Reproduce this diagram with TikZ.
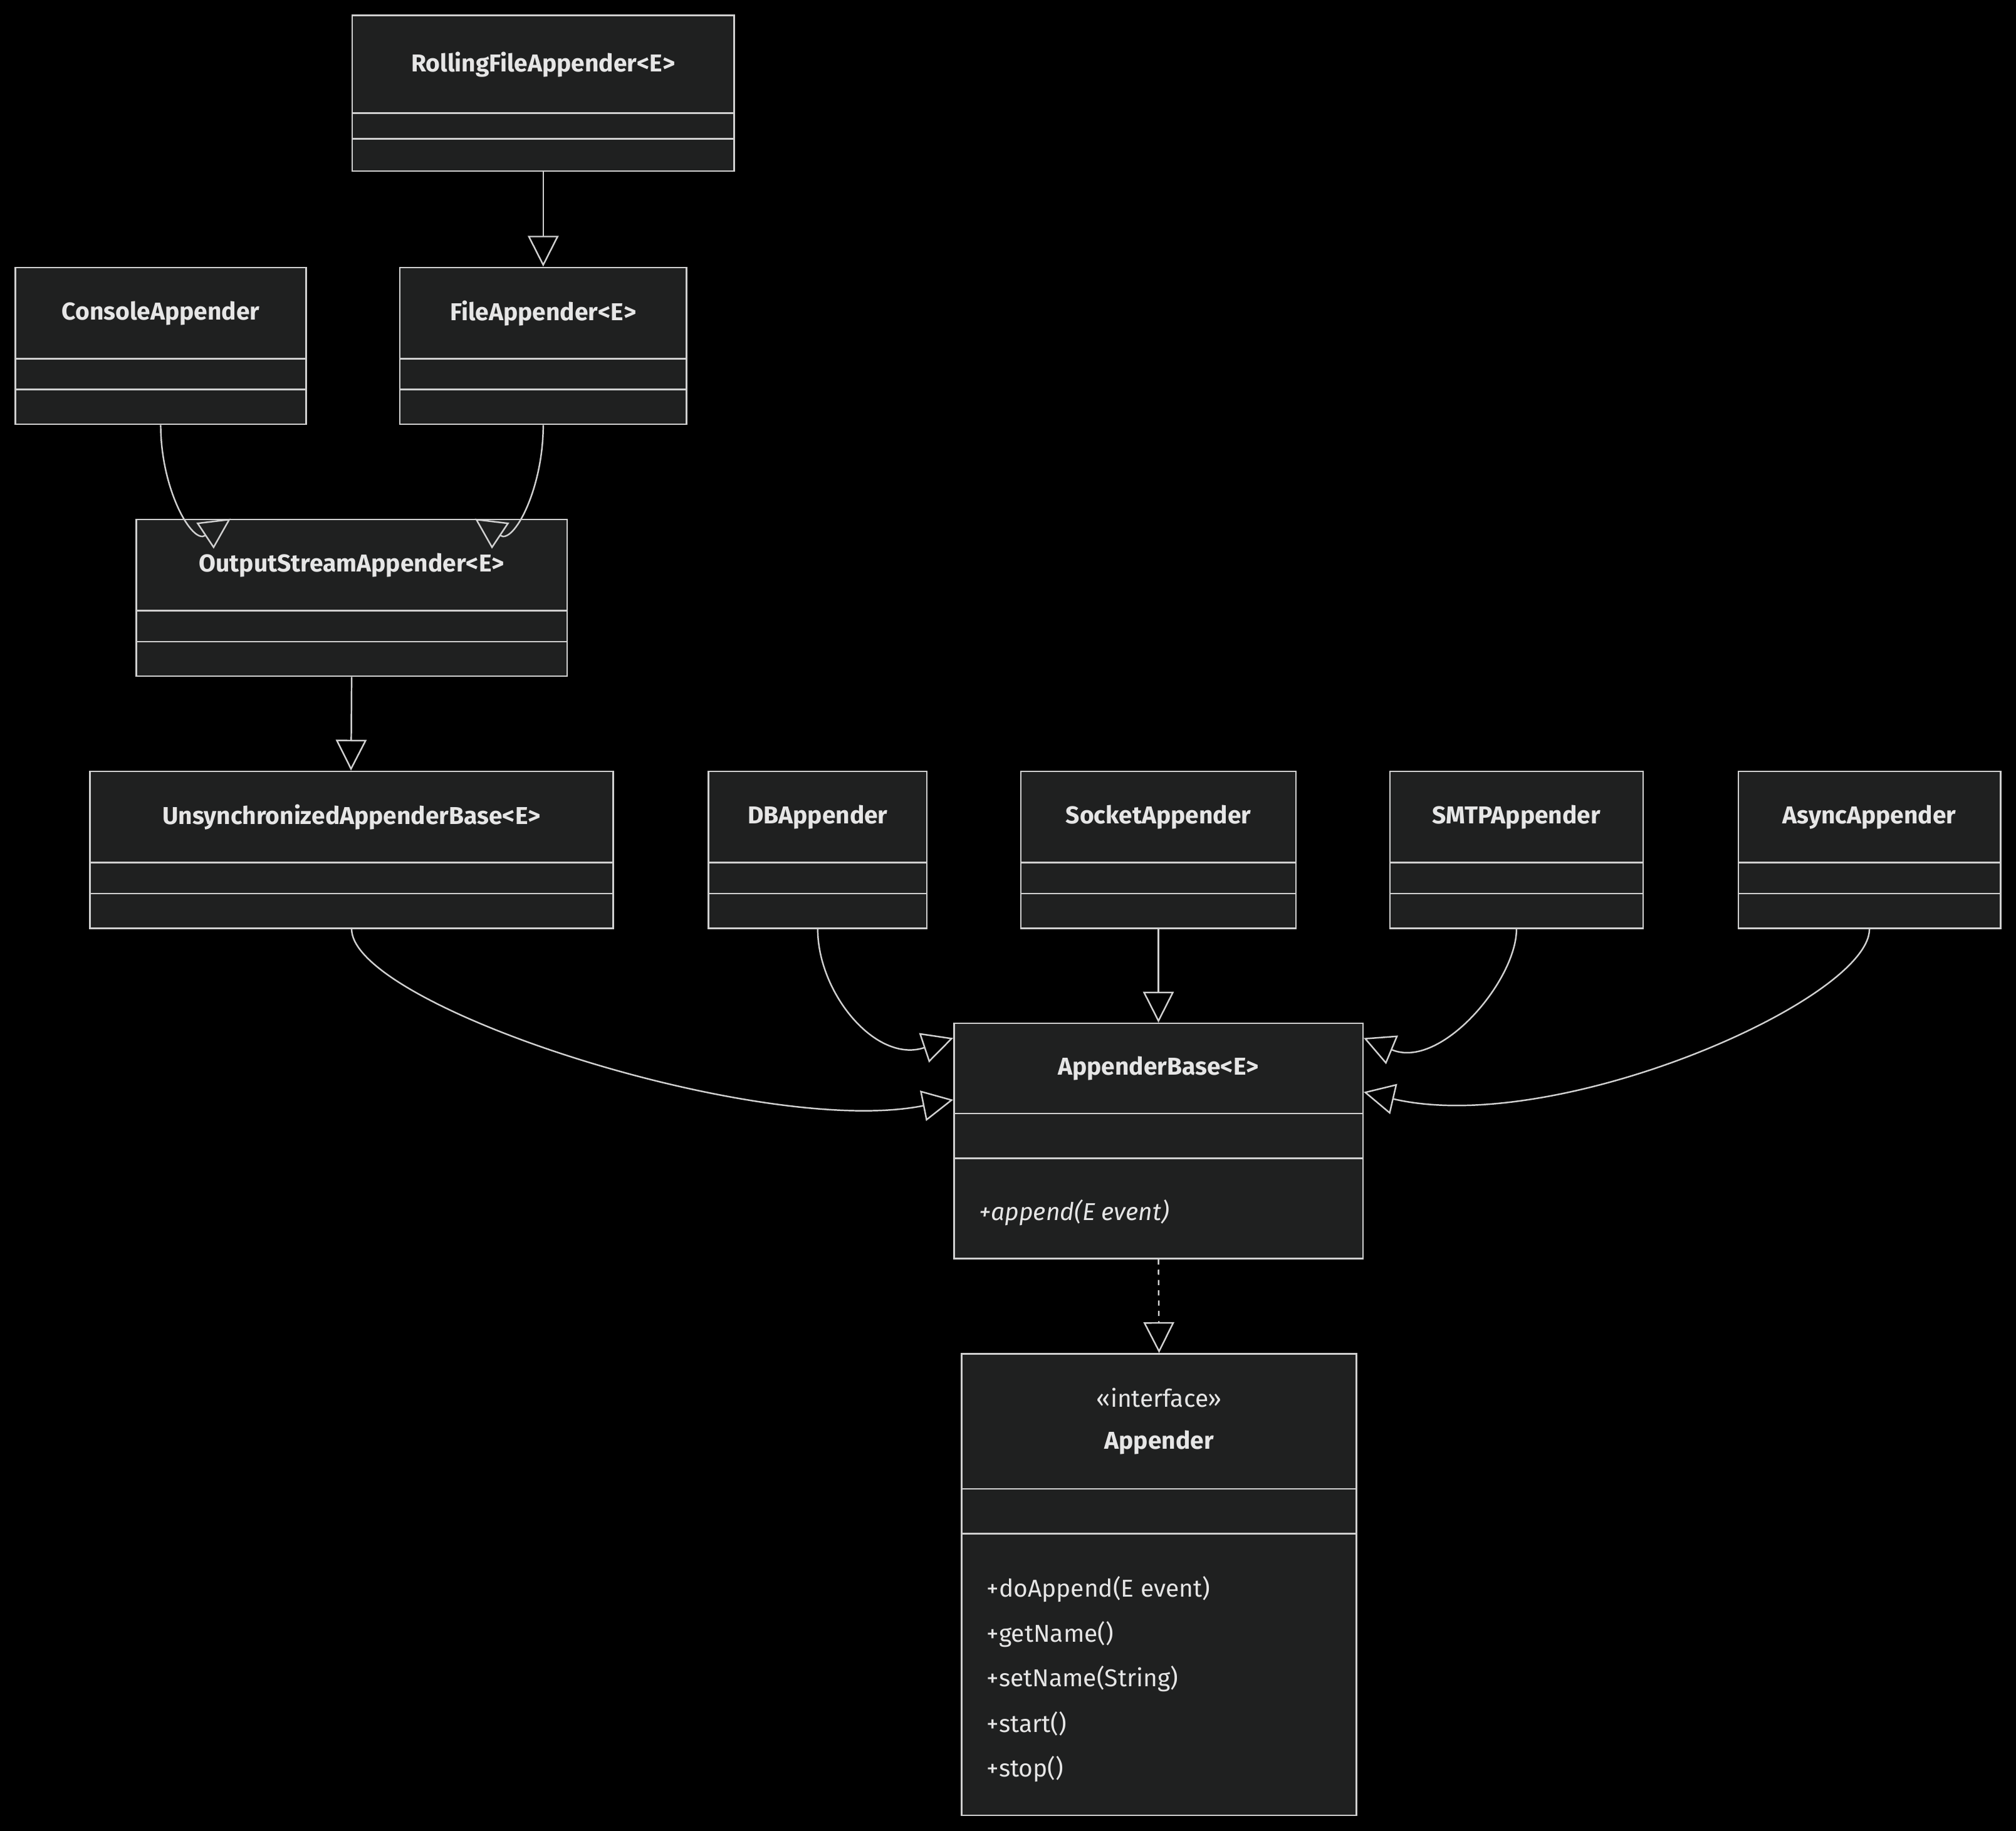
\documentclass[tikz,border=0pt]{standalone}
\usepackage{fontspec}
\setmainfont{Fira Sans}
\usetikzlibrary{arrows.meta}
\definecolor{boxfill}{HTML}{1F2020}
\definecolor{edge}{HTML}{D0D0D0}
\definecolor{txt}{HTML}{E6E6E6}
\tikzset{
  box/.style={draw=edge, fill=boxfill, line width=1.2pt, inner sep=0pt},
  title/.style={text=txt, font=\fontsize{19}{22}\selectfont\bfseries},
  member/.style={text=txt, font=\fontsize{19}{22}\selectfont, anchor=west},
  inh/.style={draw=edge, line width=1.2pt, -{Triangle[open, length=24pt, width=24pt]}},
}
\newcommand{\umlbox}[8]{%
  \node[box, minimum width={(#4-#2)*1pt}, minimum height={(#5-#3)*1pt}] (#1) at ({(#2+#4)/2},{(#3+#5)/2}) {};
  \draw[edge, line width=1.2pt] (#2,#6) -- (#4,#6) (#2,#7) -- (#4,#7);
  \node[title] at ({(#2+#4)/2},{(#3+#6)/2}) {#8};
}
\begin{document}
\begin{tikzpicture}[x=1pt,y=-1pt]
\fill[black] (0,0) rectangle (1568,1424);
\useasboundingbox (0,0) rectangle (1568,1424);
\umlbox{rfa}{274}{12}{571}{133}{88}{108}{RollingFileAppender<E>}
\umlbox{con}{12}{208}{238}{330}{279}{303}{ConsoleAppender}
\umlbox{fa}{311}{208}{534}{330}{279}{303}{FileAppender<E>}
\umlbox{osa}{106}{404}{441}{526}{475}{499}{OutputStreamAppender<E>}
\umlbox{uab}{70}{600}{477}{722}{671}{695}{UnsynchronizedAppenderBase<E>}
\umlbox{db}{551}{600}{721}{722}{671}{695}{DBAppender}
\umlbox{sock}{794}{600}{1008}{722}{671}{695}{SocketAppender}
\umlbox{smtp}{1081}{600}{1278}{722}{671}{695}{SMTPAppender}
\umlbox{async}{1352}{600}{1556}{722}{671}{695}{AsyncAppender}
\umlbox{ab}{742}{796}{1060}{979}{866}{901}{AppenderBase<E>}
\node[member] at (758,943) {\itshape +append(E event)};
% Appender interface
\node[box, minimum width=307pt, minimum height=359pt] (app) at (901.5,1232.5) {};
\draw[edge, line width=1.2pt] (748,1158) -- (1055,1158) (748,1193) -- (1055,1193);
\node[text=txt, font=\fontsize{19}{22}\selectfont] at (901.5,1087) {«interface»};
\node[title] at (901.5,1122) {Appender};
\node[member] at (764,1236) {+doAppend(E event)};
\node[member] at (764,1271) {+getName()};
\node[member] at (764,1306) {+setName(String)};
\node[member] at (764,1341) {+start()};
\node[member] at (764,1376) {+stop()};
% edges
\draw[inh] (rfa.south) -- (fa.north);
\draw[inh] (con.south) .. controls +(0,50) and +(-30,20) .. ([xshift=74pt]osa.north west);
\draw[inh] (fa.south) .. controls +(0,50) and +(30,20) .. ([xshift=264pt]osa.north west);
\draw[inh] (osa.south) -- ([xshift=-0.5pt]uab.north);
\draw[inh] (uab.south) .. controls +(0,60) and +(-150,30) .. ([yshift=-60pt]ab.north west);
\draw[inh] (db.south) .. controls +(0,50) and +(-60,20) .. ([yshift=-12pt]ab.north west);
\draw[inh] (sock.south) -- (ab.north);
\draw[inh] (smtp.south) .. controls +(0,40) and +(60,25) .. ([yshift=-12pt]ab.north east);
\draw[inh] (async.south) .. controls +(0,55) and +(150,35) .. ([yshift=-54pt]ab.north east);
\draw[inh, dashed, dash pattern=on 4pt off 4pt] (ab.south) -- (app.north);
\end{tikzpicture}
\end{document}
